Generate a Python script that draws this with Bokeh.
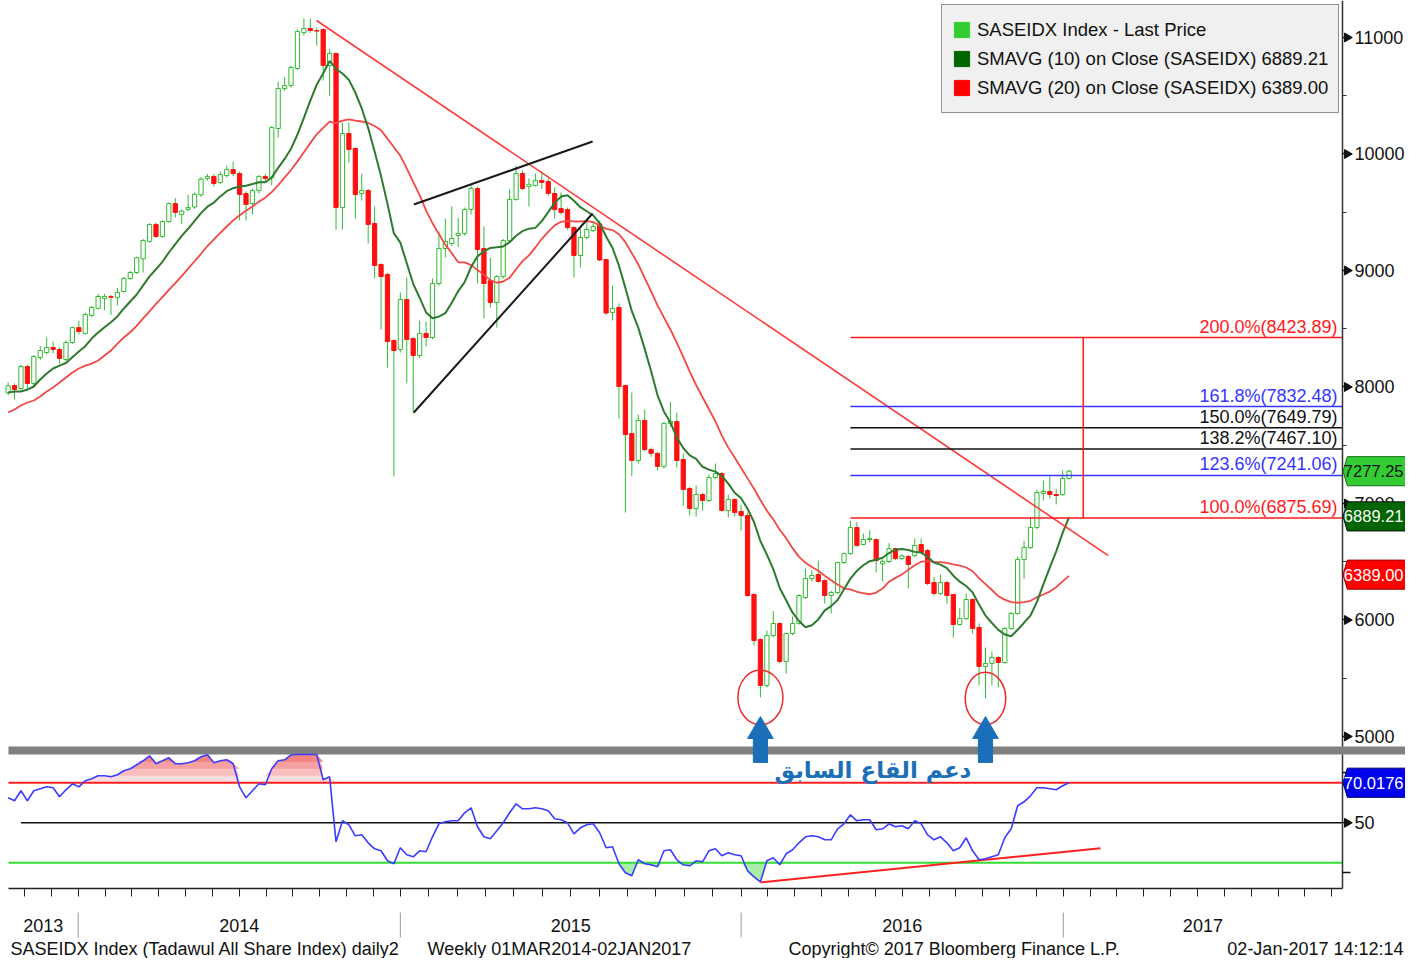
import numpy as np
import pandas as pd
from bokeh.plotting import figure
from bokeh.models import (Range1d, FixedTicker, Legend, LegendItem,
                          LinearAxis, CustomJSTickFormatter)
from bokeh.core.properties import value
from bokeh.embed import file_html
from bokeh.resources import INLINE

FONT = "Liberation Sans"

# ---------------- data (weekly bars) ----------------
opens = [7950, 8013, 7987, 8176, 8030, 8253, 8296, 8339, 8322, 8236,
         8382, 8510, 8460, 8615, 8675, 8760, 8777, 8770, 8820, 8931,
         8983, 9100, 9250, 9395, 9292, 9420, 9575, 9480, 9525, 9545,
         9650, 9790, 9807, 9755, 9815, 9866, 9832, 9660, 9575, 9686,
         9806, 9797, 10219, 10562, 10588, 10734, 11043, 11077, 11060, 11069,
         10760, 10863, 9540, 10176, 10047, 9660, 9686, 9403, 9052, 8966,
         8399, 8322, 8751, 8416, 8270, 8460, 8425, 8888, 9189, 9232,
         9300, 9317, 9524, 9704, 9189, 8913, 8725, 8948, 9258, 9610,
         9833, 9722, 9730, 9773, 9764, 9661, 9532, 9523, 9369, 9129,
         9283, 9343, 9400, 9094, 8640, 8683, 8013, 7601, 7369, 7713,
         7463, 7430, 7318, 7686, 7704, 7378, 7129, 6957, 7077, 7026,
         7223, 7257, 6940, 7034, 6931, 6897, 6219, 5833, 5438, 5867,
         5970, 5644, 5884, 5970, 6193, 6356, 6390, 6339, 6210, 6236,
         6493, 6570, 6794, 6648, 6691, 6691, 6484, 6502, 6613, 6527,
         6545, 6553, 6648, 6596, 6322, 6227, 6322, 6219, 5961, 6012,
         6176, 5936, 5601, 5627, 5678, 5635, 5927, 6055, 6519, 6622,
         6794, 7086, 7103, 7077, 7077, 7215]
highs = [8040, 8030, 8190, 8190, 8275, 8355, 8425, 8390, 8340, 8400,
         8520, 8570, 8640, 8695, 8800, 8800, 8790, 8850, 8945, 8995,
         9120, 9270, 9405, 9410, 9430, 9585, 9620, 9525, 9650, 9670,
         9800, 9830, 9830, 9850, 9900, 9935, 9850, 9680, 9700, 9820,
         9830, 10240, 10620, 10660, 10760, 11070, 11163, 11163, 11086, 11080,
         10900, 10870, 10270, 10270, 10060, 9832, 9700, 9549, 9060, 8980,
         8410, 8811, 8940, 8430, 8570, 8562, 8931, 9335, 9446, 9550,
         9450, 9540, 9730, 9720, 9378, 9110, 8960, 9270, 9695, 9900,
         9858, 9790, 9833, 9850, 9790, 9712, 9670, 9540, 9380, 9360,
         9420, 9420, 9430, 9100, 8871, 8717, 8020, 7953, 7764, 7807,
         7480, 7440, 7700, 7870, 7781, 7430, 7140, 7154, 7090, 7250,
         7343, 7270, 7077, 7045, 6990, 6920, 6230, 5840, 5910, 6075,
         5980, 5890, 6030, 6220, 6442, 6425, 6510, 6350, 6250, 6500,
         6580, 6854, 6840, 6742, 6770, 6700, 6520, 6660, 6620, 6565,
         6560, 6700, 6700, 6610, 6370, 6390, 6335, 6225, 6100, 6227,
         6185, 5970, 5764, 5730, 5690, 5940, 6070, 6545, 6680, 6880,
         7120, 7197, 7232, 7125, 7283, 7290]
lows = [7930, 7893, 7970, 7990, 8010, 8230, 8280, 8290, 8200, 8220,
        8370, 8450, 8450, 8600, 8665, 8660, 8620, 8700, 8810, 8920,
        8970, 8983, 9240, 9280, 9280, 9410, 9455, 9400, 9510, 9530,
        9630, 9770, 9720, 9740, 9800, 9808, 9430, 9430, 9480, 9660,
        9770, 9730, 10140, 10540, 10570, 10720, 11017, 11040, 10931, 10631,
        10500, 9352, 9352, 9927, 9447, 9600, 9232, 8931, 8494, 8167,
        7232, 8296, 8038, 7772, 8250, 8347, 8410, 8870, 9112, 9210,
        9200, 9300, 9480, 8888, 8588, 8682, 8510, 8930, 9240, 9600,
        9690, 9550, 9720, 9700, 9640, 9446, 9480, 9350, 8940, 9026,
        9270, 9330, 9080, 8620, 8571, 7730, 6922, 7232, 7343, 7450,
        7400, 7283, 7300, 7660, 7309, 6982, 6897, 6888, 6940, 7010,
        7210, 6930, 6880, 6888, 6768, 6200, 5781, 5335, 5420, 5850,
        5630, 5540, 5870, 5960, 6180, 6330, 6320, 6141, 6055, 6225,
        6480, 6560, 6630, 6640, 6665, 6407, 6330, 6490, 6515, 6515,
        6270, 6540, 6570, 6300, 6210, 6215, 6141, 5850, 5950, 6000,
        5884, 5438, 5326, 5438, 5420, 5625, 5915, 6045, 6356, 6610,
        6780, 7026, 7043, 6992, 7065, 7205]
closes = [8010, 7979, 8176, 8030, 8262, 8313, 8339, 8322, 8245, 8382,
          8510, 8476, 8622, 8683, 8777, 8777, 8770, 8811, 8931, 8983,
          9110, 9257, 9395, 9292, 9420, 9575, 9498, 9510, 9540, 9655,
          9785, 9807, 9747, 9823, 9866, 9832, 9652, 9567, 9686, 9806,
          9790, 10227, 10562, 10588, 10742, 11051, 11077, 11060, 11055, 10760,
          10863, 9540, 10176, 10039, 9652, 9686, 9395, 9043, 8948, 8390,
          8313, 8751, 8408, 8270, 8460, 8425, 8888, 9189, 9249, 9275,
          9317, 9524, 9704, 9180, 8888, 8725, 8948, 9258, 9610, 9833,
          9704, 9740, 9773, 9756, 9661, 9523, 9498, 9369, 9129, 9283,
          9352, 9378, 9090, 8635, 8674, 8004, 7592, 7369, 7713, 7463,
          7430, 7318, 7686, 7705, 7369, 7120, 6957, 7077, 7026, 7223,
          7257, 6940, 7034, 6923, 6897, 6210, 5824, 5438, 5867, 5970,
          5644, 5884, 5970, 6210, 6356, 6382, 6330, 6210, 6236, 6493,
          6570, 6794, 6639, 6691, 6700, 6510, 6502, 6613, 6527, 6550,
          6476, 6639, 6580, 6313, 6227, 6322, 6210, 5961, 6012, 6176,
          5927, 5601, 5627, 5678, 5635, 5927, 6055, 6519, 6622, 6794,
          7094, 7103, 7077, 7069, 7215, 7277.25]

# moving-average values at the left edge (history before the visible window)
sma10_warmup = [7953, 7961, 7961, 7978, 8004, 8064, 8116, 8159, 8184]
sma20_warmup = [7781, 7807, 7841, 7867, 7884, 7918, 7961, 7996, 8038, 8081,
                8124, 8159, 8184, 8201, 8227, 8270, 8313, 8373, 8425]

rsi = [62.5, 61, 66, 61, 66, 67, 68, 67.5, 63, 66.5,
       69.5, 68, 71, 72, 73.5, 73.5, 73, 74, 76, 77,
       79, 81, 83.5, 79.5, 81, 82.5, 79.5, 79.5, 80, 81,
       83, 84, 80, 81, 81.5, 79.5, 68, 62.5, 66, 69.5,
       69, 77, 81, 81.5, 84, 88, 89, 88, 88, 71.5,
       73, 40.5, 51, 49, 43.5, 44, 40, 37, 36, 31,
       29.5, 37.5, 34, 33, 36, 35.5, 43, 49.5, 50.5, 51,
       51, 55, 57.5, 48, 43, 42, 46, 50, 55, 59.5,
       57, 57, 57.5, 57, 56, 52, 51.5, 50, 44.5, 47.5,
       49, 49.5, 45, 37.5, 38, 29.5, 25, 23.5, 31.5, 29.5,
       29, 28, 36, 36.5, 31.5, 29, 28.5, 31, 30.5, 36,
       37, 33.5, 35, 34, 33.5, 26, 23, 20.5, 31, 32.5,
       29, 34.5, 36.5, 40, 43, 43.5, 43, 41.5, 41.5, 47,
       49.5, 54, 51, 51.5, 51.5, 46.5, 47, 49.5, 48, 48.5,
       47, 51, 49.5, 44, 41.5, 43, 40, 36, 37.5, 42.5,
       36, 31.5, 32, 33, 34, 42.5, 47, 58.5, 60.5, 63.5,
       67.5, 67.5, 67, 66.5, 68.5, 70.0176]

last_price = 7277.25
sma10_last = 6889.21
sma20_last = 6389.00
rsi_last = 70.0176

fib_pcts = ["200.0", "161.8", "150.0", "138.2", "123.6", "100.0"]
fib_levels = [8423.89, 7832.48, 7649.79, 7467.10, 7241.06, 6875.69]
fib_colors = ["#ff1a1a", "#3535ff", "#111111", "#111111", "#3535ff", "#ff1a1a"]
fib_start_bar = 131
fib_mark_bar = 167.2

trend_down_x = [47.96, 171.1]
trend_down_y = [11146, 6553]
channel_up_x = [63.1, 90.9]
channel_up_y = [9566, 10107]
channel_lo_x = [63.1, 90.9]
channel_lo_y = [7781, 9489]
rsi_trend_x = [117, 169.9]
rsi_trend_y = [20.2, 37.3]
support_bars = [117, 152]

price_ticks = [5000, 6000, 7000, 8000, 9000, 10000, 11000]
rsi_ticks = [25, 50, 75]
rsi_bands = [70, 50, 30]
years = ["2013", "2014", "2015", "2016", "2017"]
year_edges = [10.9, 61.0, 114.0, 164.1]   # bar position of 1 Jan 2014 .. 2017

legend_labels = ["SASEIDX Index - Last Price",
                 "SMAVG (10) on Close (SASEIDX) %.2f" % sma10_last,
                 "SMAVG (20) on Close (SASEIDX) %.2f" % sma20_last]
footer_left = "SASEIDX Index (Tadawul All Share Index) daily2"
footer_mid = "Weekly 01MAR2014-02JAN2017"
footer_copy = "Copyright\u00a9 2017 Bloomberg Finance L.P."
footer_time = "02-Jan-2017 14:12:14"
arabic_note = "دعم القاع السابق"

# ---------------- layout geometry ----------------
W, H = 1405, 958
X0, X1 = -1.182, 217.32         # bar-index range across the canvas
XF = 0.062                      # bar position of the frame's left edge
AXIS_X = 207.52                 # bar position of the right-hand axis
P_BOT, P_TOP = 3094.3, 11317.6  # price range across the canvas height
R_BOT, R_TOP = -17.85, 461.15   # RSI range across the canvas height
PRICE_PANEL = (4914, P_TOP)     # price panel extent
RSI_PANEL = (17.15, 84.15)      # RSI panel extent
X_AXIS_AT = 3695                # price level of the time axis line

GREEN = "#33bb33"
RED = "#ff1010"
ARROW = "#1b6fb8"

n = len(closes)
idx = np.arange(n)
o = np.array(opens, float)
h = np.array(highs, float)
l = np.array(lows, float)
c = np.array(closes, float)
up = c >= o
rsi_arr = np.array(rsi, float)
rsi_disp = np.minimum(rsi_arr, RSI_PANEL[1])   # clipped at the panel top

sma10 = pd.Series(c).rolling(10).mean().to_numpy()
sma10[:len(sma10_warmup)] = sma10_warmup
sma20 = pd.Series(c).rolling(20).mean().to_numpy()
sma20[:len(sma20_warmup)] = sma20_warmup

p = figure(width=W, height=H, x_range=Range1d(X0, X1),
           y_range=Range1d(P_BOT, P_TOP), x_axis_location="below",
           y_axis_location="right", output_backend="svg",
           toolbar_location=None, min_border=0, outline_line_color=None,
           background_fill_color="white", border_fill_color="white")
p.extra_y_ranges = {"rsi": Range1d(R_BOT, R_TOP), "canvas": Range1d(H, 0)}
p.extra_x_ranges = {"px": Range1d(0, W)}
p.grid.visible = False

axis_style = dict(axis_line_color="#333333", axis_line_width=1.5,
                  major_tick_out=8, major_tick_in=0, major_tick_line_width=1.5,
                  major_tick_line_color="#111111", minor_tick_out=4,
                  minor_tick_in=0, minor_tick_line_color="#333333",
                  major_label_text_font=FONT, major_label_text_font_size="18px",
                  major_label_text_color="#111111", major_label_standoff=4)

# ---- price axis (right) ----
ay = p.yaxis[0]
ay.fixed_location = AXIS_X
ay.bounds = PRICE_PANEL
ay.ticker = FixedTicker(ticks=price_ticks,
                        minor_ticks=[t + 500 for t in price_ticks[:-1]])
for k, v in axis_style.items():
    setattr(ay, k, v)

# ---- RSI axis (right) ----
ar = LinearAxis(y_range_name="rsi", fixed_location=AXIS_X, bounds=RSI_PANEL,
                ticker=FixedTicker(ticks=rsi_ticks, minor_ticks=[]),
                major_label_overrides={25: "", 75: ""}, **axis_style)
p.add_layout(ar, "right")

# bloomberg-style arrow tick markers on the labelled ticks
p.scatter(x=[AXIS_X + 0.72] * len(price_ticks), y=price_ticks,
          marker="triangle", angle=-np.pi / 2, size=9, fill_color="#111111",
          line_color="#111111")
p.scatter(x=[AXIS_X + 0.72], y=[50], marker="triangle", angle=-np.pi / 2,
          size=9, fill_color="#111111", line_color="#111111",
          y_range_name="rsi")

# ---- time axis (below) ----
month_ticks = []
edges = ([year_edges[0] - (year_edges[1] - year_edges[0])] + year_edges +
         [year_edges[-1] + (year_edges[-1] - year_edges[-2])])
for a0, b0 in zip(edges[:-1], edges[1:]):
    step = (b0 - a0) / 12.0
    month_ticks += [a0 + k * step for k in range(12)]
month_ticks = [t for t in month_ticks if XF <= t <= AXIS_X]
ax = p.xaxis[0]
ax.fixed_location = X_AXIS_AT
ax.bounds = (XF, AXIS_X)
ax.ticker = FixedTicker(ticks=month_ticks, minor_ticks=[])
ax.formatter = CustomJSTickFormatter(code="return ''")
ax.major_label_text_font_size = "1px"
ax.major_label_standoff = 0
ax.major_tick_out = 8
ax.major_tick_in = 0
ax.major_tick_line_color = "#222222"
ax.axis_line_color = "#222222"
ax.axis_line_width = 1.5

# ================= price panel =================
p.segment(x0=idx, y0=l, x1=idx, y1=h, line_color=GREEN, line_width=1)
p.vbar(x=idx[up], width=0.66, top=c[up], bottom=o[up], fill_color="white",
       line_color=GREEN, line_width=1)
p.vbar(x=idx[~up], width=0.66, top=o[~up], bottom=c[~up], fill_color=RED,
       line_color=RED, line_width=1)

p.line(idx, sma20, line_color="#f24848", line_width=1.8)
p.line(idx, sma10, line_color="#2e7a2e", line_width=2)

p.line(trend_down_x, trend_down_y, line_color="#ff3a3a", line_width=1.6)
p.line(channel_up_x, channel_up_y, line_color="#1a1a1a", line_width=2)
p.line(channel_lo_x, channel_lo_y, line_color="#1a1a1a", line_width=2)

nf = len(fib_levels)
p.segment(x0=[fib_start_bar] * nf, x1=[AXIS_X] * nf, y0=fib_levels,
          y1=fib_levels, line_color=fib_colors, line_width=1.5)
p.segment(x0=[fib_mark_bar], x1=[fib_mark_bar], y0=[fib_levels[0]],
          y1=[fib_levels[-1]], line_color="#ff1a1a", line_width=1.5)
p.text(x=[AXIS_X] * nf, y=fib_levels,
       text=["%s%%(%.2f)" % (pc, v) for pc, v in zip(fib_pcts, fib_levels)],
       text_color=fib_colors, text_align="right", text_baseline="bottom",
       x_offset=-5, y_offset=-1, text_font=value(FONT), text_font_size="18px")

p.ellipse(x=support_bars, y=[l[b] for b in support_bars], width=[7.0, 6.3],
          height=[470, 450], fill_color=None, line_color="#ee2a2a",
          line_width=1.5)

# legend (square swatches)
items = []
for lab, col in zip(legend_labels, ["#33cc33", "#006400", "#ff0000"]):
    r = p.quad(left=[np.nan], right=[np.nan], top=[np.nan], bottom=[np.nan],
               fill_color=col, line_color=col)
    items.append(LegendItem(label=lab, renderers=[r]))
legend = Legend(items=items, location=(941, 845), padding=10, spacing=0,
                glyph_width=19, glyph_height=19, label_height=29,
                label_standoff=6, label_text_font=FONT,
                label_text_font_size="18.5px", label_text_color="#111111",
                background_fill_color="#f0f0f0", background_fill_alpha=1.0,
                border_line_color="#333333", border_line_width=1.5)
p.add_layout(legend)

# ================= grey separator =================
p.quad(left=[8], right=[W], top=[746], bottom=[754], x_range_name="px",
       y_range_name="canvas", fill_color="#808080", line_color=None)

# ================= RSI panel =================
for lv, col in zip([70, 73.5, 77, 80.5],
                   ["#fcdcdc", "#f9bfbf", "#f5a1a1", "#f18383"]):
    p.varea(x=idx, y1=np.full(n, lv), y2=np.maximum(rsi_disp, lv),
            fill_color=col, y_range_name="rsi")
p.varea(x=idx, y1=np.minimum(rsi_disp, 30), y2=np.full(n, 30),
        fill_color="#a8eea8", y_range_name="rsi")
p.segment(x0=[XF, 2, XF], x1=[AXIS_X] * 3, y0=rsi_bands, y1=rsi_bands,
          line_color=["#ff2020", "#111111", "#33dd33"],
          line_width=[2, 1.6, 2], y_range_name="rsi")
p.line(rsi_trend_x, rsi_trend_y, line_color="#ff2020", line_width=2,
       y_range_name="rsi")
p.line(idx, rsi_disp, line_color="#3c3cff", line_width=1.6,
       y_range_name="rsi")

p.text(x=[sum(support_bars) / 2.0], y=[76.5], text=[arabic_note],
       text_color=ARROW, text_align="center", text_baseline="middle",
       text_font=value("DejaVu Sans"), text_font_style="bold",
       text_font_size="23px", y_range_name="rsi")

# blue arrows under the two lows (head + shaft)
p.patches(xs=[[b - 2.0, b + 2.0, b] for b in support_bars],
          ys=[[4983, 4983, 5171] for b in support_bars],
          fill_color=ARROW, line_color=ARROW)
p.quad(left=[b - 1.1 for b in support_bars],
       right=[b + 1.1 for b in support_bars],
       bottom=[4777] * 2, top=[4990] * 2, fill_color=ARROW, line_color=ARROW)

# ================= value boxes on the axis =================
def value_boxes(vals, texts, fills, tcols, bcols, half_h, rng):
    xs = [[AXIS_X + 0.08, AXIS_X + 0.75, X1 + 1, X1 + 1, AXIS_X + 0.75]
          for _ in vals]
    ys = [[v, v + half_h, v + half_h, v - half_h, v - half_h] for v in vals]
    p.patches(xs=xs, ys=ys, fill_color=fills, line_color=bcols, line_width=1,
              y_range_name=rng, level="annotation")
    p.text(x=[X1] * len(vals), y=vals, text=texts, text_color=tcols,
           text_align="right", text_baseline="middle", x_offset=-2,
           text_font=value(FONT), text_font_size="16.5px",
           y_range_name=rng, level="annotation")

price_vals = [last_price, sma10_last, sma20_last]
value_boxes(price_vals, ["%.2f" % v for v in price_vals],
            ["#33cc33", "#006400", "#ff0000"], ["#111111", "white", "white"],
            ["#1a6e1a", "#111111", "#990000"], 125, "default")
value_boxes([rsi_last], ["%.4f" % rsi_last], ["#0000ee"], ["white"],
            ["#000066"], 7.3, "rsi")

# ================= footer =================
p.segment(x0=year_edges, x1=year_edges, y0=[912] * len(year_edges),
          y1=[937] * len(year_edges), line_color="#999999", line_width=1,
          y_range_name="canvas")
bounds = [XF] + year_edges + [AXIS_X]
p.text(x=[(a0 + b0) / 2.0 for a0, b0 in zip(bounds[:-1], bounds[1:])],
       y=[925] * len(years), text=years, text_align="center",
       text_baseline="middle", text_color="#111111", text_font=value(FONT),
       text_font_size="18px", y_range_name="canvas")
p.text(x=[10, 427, 788, 1403], y=[948] * 4,
       text=[footer_left, footer_mid, footer_copy, footer_time],
       text_align=["left", "left", "left", "right"], text_baseline="middle",
       text_color="#111111", text_font=value(FONT), text_font_size="18px",
       x_range_name="px", y_range_name="canvas")

html = file_html(p, INLINE, "SASEIDX")
with open("out.html", "w", encoding="utf-8") as f:
    f.write(html)
